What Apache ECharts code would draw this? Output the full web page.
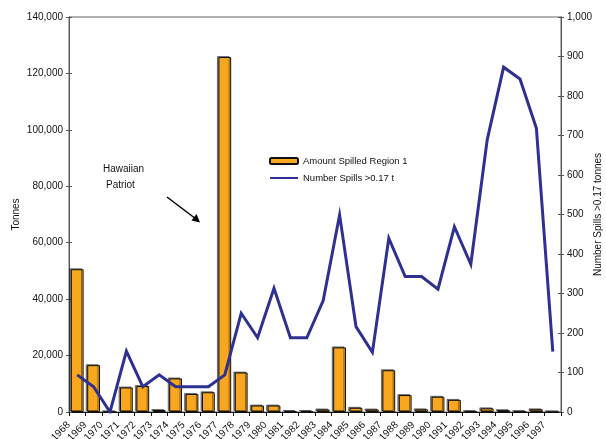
<!DOCTYPE html>
<html>
<head>
<meta charset="utf-8">
<script src="https://cdn.jsdelivr.net/npm/echarts@6/dist/echarts.min.js"></script>
<style>
html,body{margin:0;padding:0;background:#fff;}
#c{width:606px;height:439px;}
</style>
</head>
<body>
<div id="c"></div>
<script>
const years = ['1968','1969','1970','1971','1972','1973','1974','1975','1976','1977',
  '1978','1979','1980','1981','1982','1983','1984','1985','1986','1987',
  '1988','1989','1990','1991','1992','1993','1994','1995','1996','1997'];
const amountSpilled = [50600, 16600, 0, 8700, 9200, 700, 11900, 6400, 7000, 125800,
  14000, 2300, 2300, 300, 300, 900, 22900, 1500, 900, 14800,
  6000, 950, 5400, 4300, 200, 1300, 650, 200, 950, 0];
const numberSpills = [94, 64, 0, 154, 64, 94, 64, 64, 64, 94,
  250, 188, 313, 188, 188, 282, 499, 216, 151, 440,
  343, 343, 311, 469, 374, 689, 873, 843, 718, 153];
const leftTicks = {min: 0, max: 140000, interval: 20000};
const rightTicks = {min: 0, max: 1000, interval: 100};

const FONT = '"Liberation Sans", Arial, sans-serif';
const fmt = v => Number(v).toLocaleString('en-US');
const chart = echarts.init(document.getElementById('c'), null, {renderer: 'canvas'});

const baseY = (t, pos) => ({
  type: 'value', position: pos, min: t.min, max: t.max, interval: t.interval,
  splitLine: {show: false},
  axisLine: {show: true, lineStyle: {color: '#555', width: 1}},
});

chart.setOption({
  animation: false,
  textStyle: {fontFamily: FONT},
  grid: {left: 69, right: 45, top: 17, bottom: 27, containLabel: false, outerBoundsMode: 'none',
    show: true, borderColor: '#666', borderWidth: 1},
  legend: {
    orient: 'vertical', left: 269, top: 156, padding: 0, itemWidth: 28, itemHeight: 6, itemGap: 7,
    textStyle: {fontFamily: FONT, fontSize: 9.5, color: '#111'},
    data: [
      {name: 'Amount Spilled Region 1'},
      {name: 'Number Spills >0.17 t', itemStyle: {opacity: 0}}
    ]
  },
  xAxis: {
    type: 'category', data: years, boundaryGap: true,
    axisLine: {lineStyle: {color: '#111', width: 1}},
    axisTick: {show: true, length: 4, lineStyle: {color: '#111'}},
    axisLabel: {interval: 0, rotate: 45, margin: 3, padding: [0, 12, 0, 0],
      fontFamily: FONT, fontSize: 10, color: '#111'}
  },
  yAxis: [
    Object.assign(baseY(leftTicks, 'left'), {
      name: 'Tonnes', nameLocation: 'middle', nameGap: 48, nameRotate: 90, nameMoveOverlap: false,
      nameTextStyle: {fontFamily: FONT, fontSize: 10, color: '#111'},
      axisTick: {show: true, length: 3, lineStyle: {color: '#555'}},
      axisLabel: {formatter: fmt, fontFamily: FONT, fontSize: 10, color: '#111', margin: 6}
    }),
    Object.assign(baseY(rightTicks, 'right'), {
      name: 'Number Spills >0.17 tonnes', nameLocation: 'middle', nameGap: 32, nameRotate: 90, nameMoveOverlap: false,
      nameTextStyle: {fontFamily: FONT, fontSize: 10, color: '#111'},
      axisTick: {show: true, length: 3, lineStyle: {color: '#555'}},
      axisLabel: {formatter: fmt, fontFamily: FONT, fontSize: 10, color: '#111', margin: 6}
    }),
    Object.assign(baseY(leftTicks, 'left'), {
      axisTick: {show: true, inside: true, length: 3, lineStyle: {color: '#555'}},
      axisLabel: {show: false}
    }),
    Object.assign(baseY(rightTicks, 'right'), {
      axisTick: {show: true, inside: true, length: 3, lineStyle: {color: '#555'}},
      axisLabel: {show: false}
    })
  ],
  series: [
    {
      name: 'Amount Spilled Region 1', type: 'bar', yAxisIndex: 0,
      data: amountSpilled, barCategoryGap: '22%',
      itemStyle: {color: '#F8A71E', borderColor: '#111', borderWidth: 1,
        shadowColor: 'rgba(0,0,0,0.45)', shadowOffsetX: -1.5, shadowOffsetY: -1, shadowBlur: 0}
    },
    {
      name: 'Number Spills >0.17 t', type: 'line', yAxisIndex: 1,
      data: numberSpills, symbol: 'none', z: 5,
      lineStyle: {color: '#2E3192', width: 3, join: 'miter'},
      itemStyle: {color: '#2E3192'}
    }
  ],
  graphic: [
    {type: 'text', left: 103, top: 164, style: {text: 'Hawaiian', font: '10px ' + FONT, fill: '#111'}},
    {type: 'text', left: 106, top: 180, style: {text: 'Patriot', font: '10px ' + FONT, fill: '#111'}},
    {type: 'line', shape: {x1: 167, y1: 197, x2: 196, y2: 219}, style: {stroke: '#000', lineWidth: 1.5}},
    {type: 'polygon', shape: {points: [[200, 222.5], [191.5, 220.5], [196.5, 214]]}, style: {fill: '#000'}}
  ]
});
</script>
</body>
</html>
